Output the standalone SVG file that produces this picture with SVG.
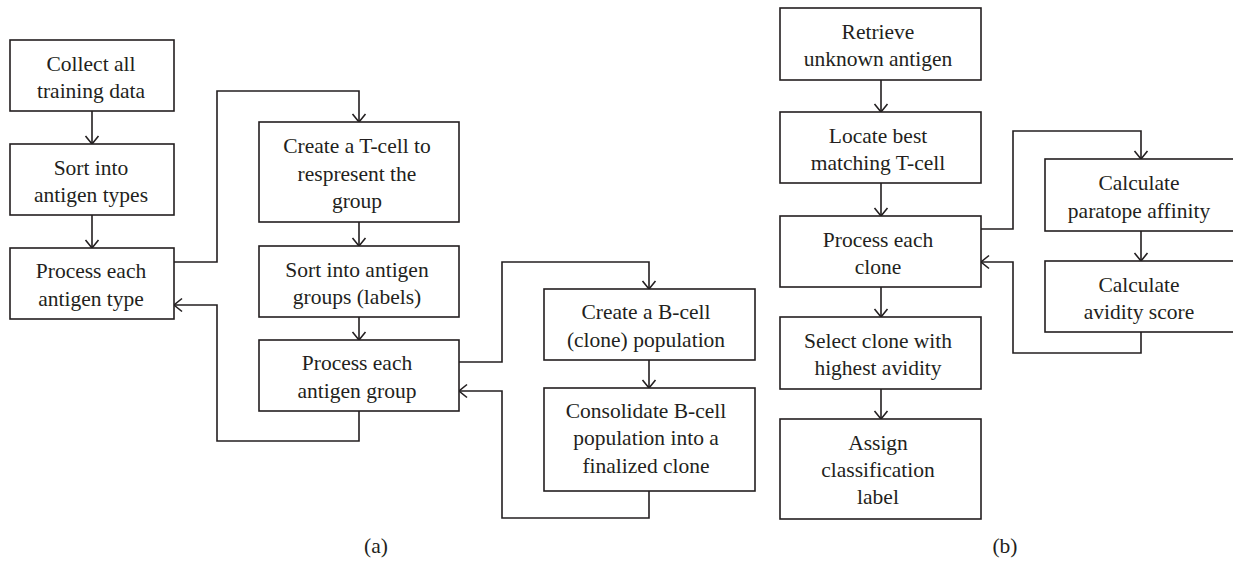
<svg xmlns="http://www.w3.org/2000/svg" width="1233" height="562" viewBox="0 0 1233 562">
  <style>
    .box { fill: #ffffff; stroke: #231f20; stroke-width: 1.6; }
    .lbl { font-family: "Liberation Serif", "Times New Roman", serif; font-size: 21.5px; fill: #231f20; text-anchor: middle; }
    .con { fill: none; stroke: #231f20; stroke-width: 1.6; marker-end: url(#arr); }
  </style>
  <defs>
    <marker id="arr" markerUnits="userSpaceOnUse" markerWidth="16" markerHeight="16" refX="0" refY="0" orient="auto" overflow="visible">
      <path d="M -8,-6.5 L 0,0 L -8,6.5" fill="none" stroke="#231f20" stroke-width="1.6"/>
    </marker>
  </defs>
  <rect width="1233" height="562" fill="#ffffff"/>

  <g id="connectors">
    <path class="con" d="M 92,111 L 92,144"/>
    <path class="con" d="M 92,215 L 92,248"/>
    <path class="con" d="M 174,262 L 217,262 L 217,91 L 359,91 L 359,122"/>
    <path class="con" d="M 359,222 L 359,246"/>
    <path class="con" d="M 359,317 L 359,340"/>
    <path class="con" d="M 359,411 L 359,441 L 217,441 L 217,305 L 174,305"/>
    <path class="con" d="M 459,362 L 502,362 L 502,262 L 649,262 L 649,289"/>
    <path class="con" d="M 649,360 L 649,388"/>
    <path class="con" d="M 649,491 L 649,518 L 502,518 L 502,391 L 459,391"/>
    <path class="con" d="M 881,80 L 881,112"/>
    <path class="con" d="M 881,183 L 881,216"/>
    <path class="con" d="M 981,229 L 1013,229 L 1013,131 L 1141,131 L 1141,159"/>
    <path class="con" d="M 1141,231 L 1141,261"/>
    <path class="con" d="M 1141,332 L 1141,353 L 1013,353 L 1013,262 L 981,262"/>
    <path class="con" d="M 881,287 L 881,317"/>
    <path class="con" d="M 881,389 L 881,419"/>
  </g>

  <g id="n-collect">
    <rect class="box" x="10" y="40" width="164" height="71"/>
    <text class="lbl" x="91" y="71">Collect all</text>
    <text class="lbl" x="91" y="98">training data</text>
  </g>
  <g id="n-sort-types">
    <rect class="box" x="10" y="144" width="164" height="71"/>
    <text class="lbl" x="91" y="175">Sort into</text>
    <text class="lbl" x="91" y="202">antigen types</text>
  </g>
  <g id="n-process-type">
    <rect class="box" x="10" y="248" width="164" height="71"/>
    <text class="lbl" x="91" y="278">Process each</text>
    <text class="lbl" x="91" y="306">antigen type</text>
  </g>
  <g id="n-tcell">
    <rect class="box" x="259" y="122" width="200" height="100"/>
    <text class="lbl" x="357" y="153">Create a T-cell to</text>
    <text class="lbl" x="357" y="181">respresent the</text>
    <text class="lbl" x="357" y="208">group</text>
  </g>
  <g id="n-sort-groups">
    <rect class="box" x="259" y="246" width="200" height="71"/>
    <text class="lbl" x="357" y="277">Sort into antigen</text>
    <text class="lbl" x="357" y="304">groups (labels)</text>
  </g>
  <g id="n-process-group">
    <rect class="box" x="259" y="340" width="200" height="71"/>
    <text class="lbl" x="357" y="370">Process each</text>
    <text class="lbl" x="357" y="398">antigen group</text>
  </g>
  <g id="n-bcell">
    <rect class="box" x="544" y="289" width="211" height="71"/>
    <text class="lbl" x="646" y="319">Create a B-cell</text>
    <text class="lbl" x="646" y="347">(clone) population</text>
  </g>
  <g id="n-consolidate">
    <rect class="box" x="544" y="388" width="211" height="103"/>
    <text class="lbl" x="646" y="418">Consolidate B-cell</text>
    <text class="lbl" x="646" y="445">population into a</text>
    <text class="lbl" x="646" y="473">finalized clone</text>
  </g>
  <text class="lbl" x="376" y="553">(a)</text>

  <g id="n-retrieve">
    <rect class="box" x="780" y="8" width="201" height="72"/>
    <text class="lbl" x="878" y="39">Retrieve</text>
    <text class="lbl" x="878" y="66">unknown antigen</text>
  </g>
  <g id="n-locate">
    <rect class="box" x="780" y="112" width="201" height="71"/>
    <text class="lbl" x="878" y="143">Locate best</text>
    <text class="lbl" x="878" y="170">matching T-cell</text>
  </g>
  <g id="n-process-clone">
    <rect class="box" x="780" y="216" width="201" height="71"/>
    <text class="lbl" x="878" y="247">Process each</text>
    <text class="lbl" x="878" y="274">clone</text>
  </g>
  <g id="n-select">
    <rect class="box" x="780" y="317" width="201" height="72"/>
    <text class="lbl" x="878" y="348">Select clone with</text>
    <text class="lbl" x="878" y="375">highest avidity</text>
  </g>
  <g id="n-assign">
    <rect class="box" x="780" y="419" width="201" height="100"/>
    <text class="lbl" x="878" y="450">Assign</text>
    <text class="lbl" x="878" y="477">classification</text>
    <text class="lbl" x="878" y="504">label</text>
  </g>
  <g id="n-paratope">
    <rect class="box" x="1045" y="159" width="195" height="72"/>
    <text class="lbl" x="1139" y="190">Calculate</text>
    <text class="lbl" x="1139" y="218">paratope affinity</text>
  </g>
  <g id="n-avidity">
    <rect class="box" x="1045" y="261" width="195" height="71"/>
    <text class="lbl" x="1139" y="292">Calculate</text>
    <text class="lbl" x="1139" y="319">avidity score</text>
  </g>
  <text class="lbl" x="1005" y="553">(b)</text>
</svg>
